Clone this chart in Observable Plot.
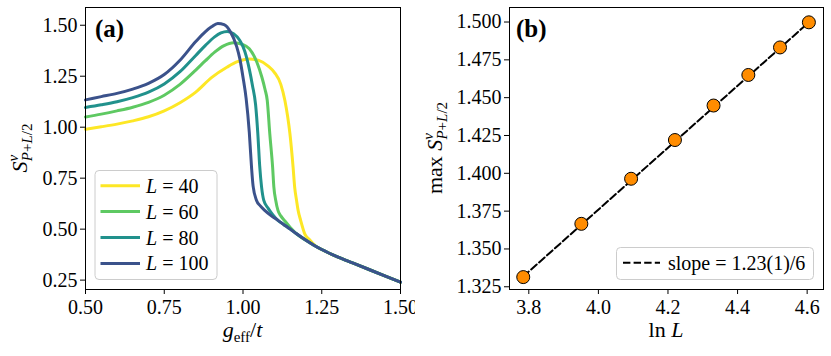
<!DOCTYPE html>
<html><head><meta charset="utf-8">
<script src="https://cdn.jsdelivr.net/npm/d3@7"></script>
<script src="https://cdn.jsdelivr.net/npm/@observablehq/plot@0.6"></script>
<style>
body{margin:0;background:#fff;}
#wrap{position:relative;width:831px;height:356px;overflow:hidden;background:#fff;}
#a,#b{position:absolute;top:0;}
#a{left:0;} #b{left:415px;}
svg text{font-family:"Liberation Serif",serif;}
</style></head><body><div id="wrap"><div id="a"></div><div id="b"></div></div>
<script>
// ---------- panel (a) data ----------
const sizes = [40, 60, 80, 100];
const colors = ["#fde725", "#5ec962", "#21918c", "#3b528b"];

const g40 = [0.50,0.55,0.60,0.65,0.70,0.75,0.80,0.85,0.90,0.95,0.98,1.02,1.05,1.08,1.10,1.12,1.133,1.142,1.149,1.159,1.164,1.170,1.175,1.183,1.196,1.21,1.23,1.25,1.30,1.35,1.40,1.45,1.50];
const s40 = [0.990,1.002,1.015,1.031,1.051,1.080,1.120,1.172,1.243,1.295,1.320,1.335,1.328,1.300,1.268,1.210,1.131,1.050,0.968,0.804,0.706,0.641,0.592,0.543,0.477,0.450,0.418,0.400,0.364,0.333,0.302,0.271,0.240];

const g60 = [0.50,0.55,0.60,0.65,0.70,0.75,0.80,0.85,0.88,0.91,0.94,0.97,1.00,1.02,1.045,1.06,1.07,1.077,1.085,1.094,1.098,1.104,1.111,1.12,1.133,1.15,1.17,1.20,1.225,1.25,1.30,1.35,1.40,1.45,1.50];
const s60 = [1.050,1.064,1.080,1.098,1.122,1.157,1.210,1.280,1.325,1.368,1.400,1.414,1.405,1.385,1.315,1.245,1.185,1.131,0.968,0.804,0.706,0.641,0.592,0.565,0.540,0.508,0.477,0.445,0.421,0.400,0.364,0.333,0.302,0.271,0.240];

const g80 = [0.50,0.55,0.60,0.65,0.70,0.75,0.80,0.85,0.88,0.91,0.93,0.95,0.97,0.99,1.00,1.01,1.02,1.03,1.04,1.047,1.053,1.059,1.066,1.08,1.095,1.111,1.13,1.15,1.17,1.20,1.225,1.25,1.30,1.35,1.40,1.45,1.50];
const s80 = [1.097,1.110,1.125,1.145,1.172,1.212,1.272,1.352,1.400,1.443,1.462,1.469,1.458,1.425,1.395,1.350,1.285,1.205,1.110,0.970,0.810,0.706,0.641,0.602,0.570,0.543,0.522,0.500,0.477,0.445,0.421,0.400,0.364,0.333,0.302,0.271,0.240];

const g100 = [0.50,0.55,0.60,0.65,0.70,0.75,0.80,0.85,0.88,0.90,0.92,0.94,0.96,0.98,0.99,1.00,1.01,1.02,1.027,1.032,1.043,1.055,1.069,1.09,1.111,1.13,1.15,1.17,1.20,1.225,1.25,1.30,1.35,1.40,1.45,1.50];
const s100 = [1.134,1.150,1.166,1.187,1.215,1.258,1.328,1.420,1.468,1.492,1.509,1.503,1.468,1.395,1.335,1.245,1.140,0.975,0.805,0.712,0.641,0.614,0.592,0.565,0.543,0.522,0.500,0.477,0.445,0.421,0.400,0.364,0.333,0.302,0.271,0.240];

const xTicksA = [0.50, 0.75, 1.00, 1.25, 1.50];
const yTicksA = [0.25, 0.50, 0.75, 1.00, 1.25, 1.50];

// ---------- panel (b) data ----------
const lnL  = [3.784, 3.951, 4.094, 4.220, 4.331, 4.431, 4.522, 4.605];
const maxS = [1.3314, 1.3666, 1.3964, 1.4220, 1.4448, 1.4650, 1.4832, 1.4998];
const fitX = [3.784, 4.605];
const fitY = [1.3318, 1.4998];
const slopeLabel = "slope = 1.23(1)/6";
const xTicksB = [3.8, 4.0, 4.2, 4.4, 4.6];
const yTicksB = [1.325, 1.350, 1.375, 1.400, 1.425, 1.450, 1.475, 1.500];

// ---------- build ----------
const gs = [g40, g60, g80, g100];
const ss = [s40, s60, s80, s100];
const rows = [];
sizes.forEach((L, i) => gs[i].forEach((g, j) => rows.push({L, g, s: ss[i][j]})));

const common = {
  style: {fontFamily: "Liberation Serif, serif", fontSize: "20px", color: "black", background: "white", overflow: "visible"},
};

const W_A = 415, H = 356;
const mA = {l: 85, r: 15, t: 7, b: 67};
const plotA = Plot.plot({
  ...common,
  width: W_A, height: H,
  marginLeft: mA.l, marginRight: mA.r, marginTop: mA.t, marginBottom: mA.b,
  x: {domain: [0.5, 1.5], ticks: xTicksA, tickFormat: d3.format(".2f"), label: null, tickSize: 5, tickPadding: 5},
  y: {domain: [0.204, 1.587], ticks: yTicksA, tickFormat: d3.format(".2f"), label: null, tickSize: 5, tickPadding: 3},
  color: {type: "ordinal", domain: sizes, range: colors},
  marks: [
    Plot.line(rows, {x: "g", y: "s", z: "L", stroke: "L", strokeWidth: 3, curve: "monotone-x"}),
    Plot.frame({stroke: "black", strokeWidth: 1})
  ]
});

const W_B = 416;
const mB = {l: 94, r: 8, t: 7, b: 67};
const pts = lnL.map((x, i) => ({x, y: maxS[i]}));
const fit = fitX.map((x, i) => ({x, y: fitY[i]}));
const plotB = Plot.plot({
  ...common,
  width: W_B, height: H,
  marginLeft: mB.l, marginRight: mB.r, marginTop: mB.t, marginBottom: mB.b,
  x: {domain: [3.7445, 4.647], ticks: xTicksB, tickFormat: d3.format(".1f"), label: null, tickSize: 5, tickPadding: 5},
  y: {domain: [1.3232, 1.5096], ticks: yTicksB, tickFormat: d3.format(".3f"), label: null, tickSize: 5, tickPadding: 3},
  marks: [
    Plot.line(fit, {x: "x", y: "y", stroke: "black", strokeWidth: 2, strokeDasharray: "7.4,3.2"}),
    Plot.dot(pts, {x: "x", y: "y", r: 6.5, fill: "#ff8c00", stroke: "black", strokeWidth: 1}),
    Plot.frame({stroke: "black", strokeWidth: 1})
  ]
});

document.getElementById("a").appendChild(plotA);
document.getElementById("b").appendChild(plotB);

// ---------- annotations (labels, legends) ----------
function subLabel(t, pre) {
  if (pre) t.append("tspan").text(pre);
  t.append("tspan").attr("font-style", "italic").text("S");
  t.append("tspan").attr("font-style", "italic").attr("font-size", 15).attr("dy", -9).text("v");
  t.append("tspan").attr("font-style", "italic").attr("font-size", 15).attr("dx", -6.5).attr("dy", 14).text("P");
  t.append("tspan").attr("font-size", 15).text("+");
  t.append("tspan").attr("font-style", "italic").attr("font-size", 15).text("L");
  t.append("tspan").attr("font-size", 15).text("/2");
}
function txt(sel, x, y, size, anchor) {
  return sel.append("text").attr("x", x).attr("y", y).attr("font-size", size)
    .attr("text-anchor", anchor || "start").attr("fill", "black");
}

// panel (a)
const sa = d3.select(plotA);
txt(sa, 95, 37, 25).attr("font-weight", "bold").text("(a)");
const xa = txt(sa, (mA.l + W_A - mA.r) / 2, 337, 22, "middle");
xa.append("tspan").attr("font-style", "italic").text("g");
xa.append("tspan").attr("font-size", 15).attr("dy", 5).text("eff");
xa.append("tspan").attr("dy", -5).text("/");
xa.append("tspan").attr("font-style", "italic").text("t");
const ya = sa.append("text").attr("transform", `translate(27,${(mA.t + H - mA.b) / 2}) rotate(-90)`)
  .attr("text-anchor", "middle").attr("font-size", 22).attr("fill", "black");
subLabel(ya, null);

const lg = sa.append("g");
lg.append("rect").attr("x", 95).attr("y", 170.5).attr("width", 122).attr("height", 109).attr("rx", 4)
  .attr("fill", "white").attr("fill-opacity", 0.8).attr("stroke", "#cccccc").attr("stroke-width", 1);
sizes.forEach((L, i) => {
  const y = 185.7 + i * 25.9;
  lg.append("line").attr("x1", 100.5).attr("x2", 140).attr("y1", y).attr("y2", y).attr("stroke", colors[i]).attr("stroke-width", 3);
  const t = txt(lg, 146, y + 7, 20);
  t.append("tspan").attr("font-style", "italic").text("L");
  t.append("tspan").text(" = " + L);
});

// panel (b)
const sb = d3.select(plotB);
txt(sb, 101, 37, 25).attr("font-weight", "bold").text("(b)");
const xb = txt(sb, (mB.l + W_B - mB.r) / 2, 337, 22, "middle");
xb.append("tspan").text("ln ");
xb.append("tspan").attr("font-style", "italic").text("L");
const yb = sb.append("text").attr("transform", `translate(27,${(mB.t + H - mB.b) / 2}) rotate(-90)`)
  .attr("text-anchor", "middle").attr("font-size", 22).attr("fill", "black");
subLabel(yb, "max ");

const lb = sb.append("g");
lb.append("rect").attr("x", 201.5).attr("y", 247.5).attr("width", 197).attr("height", 32).attr("rx", 4)
  .attr("fill", "white").attr("fill-opacity", 0.8).attr("stroke", "#cccccc").attr("stroke-width", 1);
lb.append("line").attr("x1", 208).attr("x2", 245).attr("y1", 262.7).attr("y2", 262.7).attr("stroke", "black").attr("stroke-width", 2).attr("stroke-dasharray", "7.4,3.2");
txt(lb, 253, 269.5, 20).text(slopeLabel);
</script></body></html>
